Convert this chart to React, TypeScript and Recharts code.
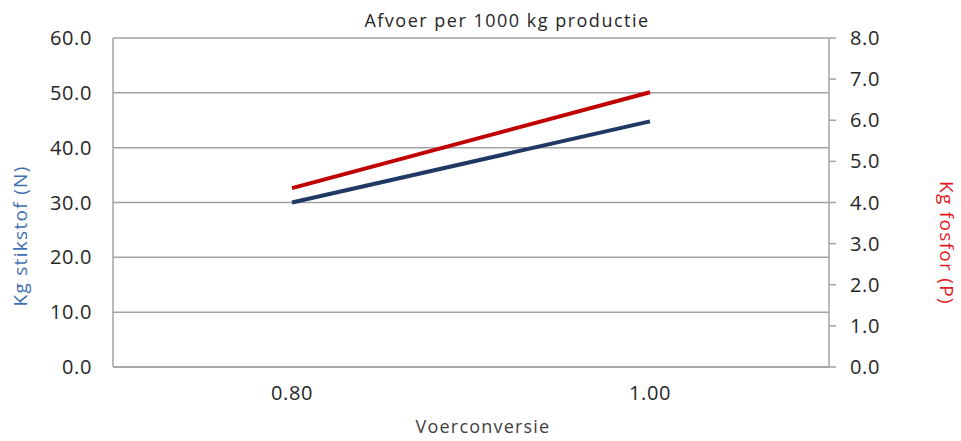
import React from "react";
import { LineChart, Line, XAxis, YAxis, CartesianGrid } from "recharts";

const categories = ["0.80", "1.00"];
const stikstof = [30.0, 44.8];
const fosfor = [4.35, 6.68];
const leftTicks = [0, 10, 20, 30, 40, 50, 60];
const rightTicks = [0, 1, 2, 3, 4, 5, 6, 7, 8];

const data = categories.map((c, i) => ({ conv: c, n: stikstof[i], p: fosfor[i] }));

const FONT = "'Open Sans', 'DejaVu Sans', sans-serif";
const GRID = "#a3a3a3";
const BLUE = "#1f3864";
const RED = "#c00000";

const tick = { fontSize: 20, fontFamily: FONT, fill: "#262626", letterSpacing: 0.6 };

export default function App() {
  return (
    <div style={{ position: "absolute", left: 0, top: 0, width: 961, height: 441, background: "#fff", fontFamily: FONT, overflow: "hidden" }}>
      <LineChart width={961} height={441} data={data} margin={{ top: 38, right: 0, bottom: 0, left: 0 }}>
        <CartesianGrid vertical={false} stroke={GRID} strokeWidth={1.5} yAxisId="n" />
        <XAxis dataKey="conv" scale="band" height={74} tick={tick} tickLine={false}
          axisLine={{ stroke: GRID, strokeWidth: 1.5 }} tickSize={0} tickMargin={19} />
        <YAxis yAxisId="n" orientation="left" width={113} domain={[0, 60]} ticks={leftTicks}
          tickFormatter={(v) => v.toFixed(1)} tick={tick} tickLine={false} tickSize={0} tickMargin={21}
          axisLine={{ stroke: GRID, strokeWidth: 1.5 }} />
        <YAxis yAxisId="p" orientation="right" width={132} domain={[0, 8]} ticks={rightTicks}
          tickFormatter={(v) => v.toFixed(1)} tick={tick} tickLine={{ stroke: GRID, strokeWidth: 1.5 }} tickSize={7} tickMargin={14}
          axisLine={{ stroke: GRID, strokeWidth: 1.5 }} />
        <Line yAxisId="n" dataKey="n" stroke={BLUE} strokeWidth={4} dot={false} isAnimationActive={false} />
        <Line yAxisId="p" dataKey="p" stroke={RED} strokeWidth={4} dot={false} isAnimationActive={false} />
      </LineChart>
      <div style={{ position: "absolute", left: 307, width: 400, top: 9, lineHeight: "22px", textAlign: "center", fontSize: 18, letterSpacing: 1.5, color: "#262626" }}>
        Afvoer per 1000 kg productie
      </div>
      <div style={{ position: "absolute", left: 283, width: 400, top: 417, lineHeight: "18px", textAlign: "center", fontSize: 18, letterSpacing: 1.2, color: "#404040" }}>
        Voerconversie
      </div>
      <div style={{ position: "absolute", left: 20, top: 236, width: 0, height: 0 }}>
        <div style={{ position: "absolute", transform: "translate(-50%, -50%) rotate(-90deg)", whiteSpace: "nowrap", lineHeight: "20px", fontSize: 19, letterSpacing: 1.3, color: "#3f6fb3" }}>
          Kg stikstof (N)
        </div>
      </div>
      <div style={{ position: "absolute", left: 947, top: 243, width: 0, height: 0 }}>
        <div style={{ position: "absolute", transform: "translate(-50%, -50%) rotate(90deg)", whiteSpace: "nowrap", lineHeight: "20px", fontSize: 19, letterSpacing: 1.3, color: "#e0201e" }}>
          Kg fosfor (P)
        </div>
      </div>
    </div>
  );
}
